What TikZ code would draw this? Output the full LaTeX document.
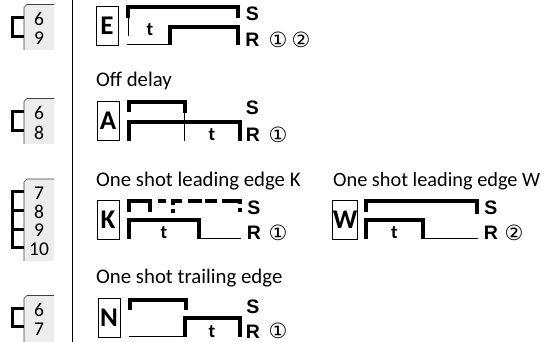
\documentclass[tikz,border=0pt]{standalone}
\usepackage{fontspec}
\setmainfont{Carlito}
\newfontfamily\symf{DejaVu Sans}
\newfontfamily\hel{Liberation Sans}
\tikzset{
 thick line/.style={line width=3.3pt,line join=miter},
 thin line/.style={line width=1pt},
 letterbox/.style={draw,line width=0.8pt,minimum width=22pt,minimum height=39pt,inner sep=0pt,font=\fontsize{27}{27}\selectfont\bfseries},
 sr/.style={inner sep=0pt,font=\fontsize{19.5}{19.5}\selectfont\hel\bfseries},
 tlab/.style={inner sep=0pt,font=\fontsize{19}{19}\selectfont\bfseries},
 title/.style={inner sep=0pt,anchor=base west,font=\fontsize{20.8}{20.8}\selectfont},
 titlew/.style={title,font=\fontsize{20.3}{20.3}\selectfont},
 num/.style={inner sep=0pt,font=\fontsize{19.5}{19.5}\selectfont},
 circ/.style={inner sep=0pt,font=\fontsize{21}{21}\selectfont\symf},
 tab/.style={fill=black!7,draw=none},
 tabedge/.style={line width=0.7pt,draw=black!75},
 bracket/.style={line width=3pt}
}
\newcommand{\tabbox}[2]{%
 \fill[tab] (24,#2) -- (24,#1+3) -- (27,#1) -- (54,#1) -- (54,#2) -- cycle;
 \draw[tabedge] (24,#2) -- (24,#1+3) -- (27,#1) -- (54,#1);}
\begin{document}
\begin{tikzpicture}[x=1pt,y=-1pt]
\useasboundingbox (0,0) rectangle (542,342);
\draw[line width=1pt] (72,0) -- (72,342);
% tabs
\tabbox{4.5}{50}
\tabbox{98.5}{144}
\tabbox{179}{261}
\tabbox{295.5}{342}
\draw[bracket] (24,18) -- (12,18) -- (12,37) -- (24,37);
\draw[bracket] (24,112) -- (12,112) -- (12,131) -- (24,131);
\draw[bracket] (24,192) -- (12,192) -- (12,248) -- (24,248);
\draw[bracket] (12,211) -- (24,211) (12,229.5) -- (24,229.5);
\draw[bracket] (24,309) -- (12,309) -- (12,327) -- (24,327);
\node[num] (n1) at (39,19) {6};
\node[num] (n2) at (39,38) {9};
\node[num] (n3) at (39,113) {6};
\node[num] (n4) at (39,133) {8};
\node[num] (n5) at (39,193) {7};
\node[num] (n6) at (39,211.5) {8};
\node[num] (n7) at (39,230) {9};
\node[num] (n8) at (39,249.5) {10};
\node[num] (n9) at (39,310) {6};
\node[num] (n10) at (39,329) {7};
% titles
\node[title] (t1) at (96,87) {Off delay};
\node[title] (t2) at (96,187) {One shot leading edge K};
\node[titlew] (t3) at (333,187) {One shot leading edge W};
\node[title] (t4) at (96,284) {One shot trailing edge};
% boxes
\node[letterbox] (E) at (107,26) {E};
\node[letterbox] (A) at (108,121) {A};
\node[letterbox] (K) at (108,220) {K};
\node[letterbox] (W) at (345,220) {W};
\node[letterbox] (N) at (109,318) {N};
% E
\draw[thick line] (128,18) -- (128,7) -- (238,7) -- (238,18);
\draw[thin line] (128.5,18) -- (128.5,36);
\draw[thin line] (127,45) -- (170,45);
\draw[thick line] (170,45.5) -- (170,27) -- (238,27) -- (238,45.5);
\node[tlab] (tE) at (150,30) {t};
\node[sr] (SE) at (252.5,14) {S};
\node[sr] (RE) at (252.5,40) {R};
\node[circ] (c1) at (278,40) {①};
\node[circ] (c2) at (301,40) {②};
% A
\draw[thick line] (129,112) -- (129,102) -- (185,102) -- (185,113);
\draw[thick line] (129,141) -- (129,122) -- (240,122) -- (240,141);
\draw[thin line] (184.5,113) -- (184.5,141);
\node[tlab] (tA) at (212,135) {t};
\node[sr] (SA) at (252.5,108) {S};
\node[sr] (RA) at (253,135) {R};
\node[circ] (c3) at (278,135) {①};
% K
\draw[thick line] (129,212) -- (129,201) -- (150,201) -- (150,212);
\draw[thick line] (158,201) -- (166,201);
\draw[thick line] (173,213) -- (173,209);
\draw[thick line] (173,205) -- (173,201) -- (182,201);
\draw[thick line] (188,201) -- (202,201);
\draw[thick line] (205,201) -- (217,201);
\draw[thick line] (222,201) -- (240,201) -- (240,204);
\draw[thick line] (240,208) -- (240,212);
\draw[thick line] (129,239) -- (129,220) -- (199,220) -- (199,239);
\draw[thin line] (199,239) -- (241,239);
\node[tlab] (tK) at (164,233) {t};
\node[sr] (SK) at (254,208) {S};
\node[sr] (RK) at (254,233) {R};
\node[circ] (c4) at (278,233) {①};
% W
\draw[thick line] (366,212) -- (366,201) -- (477,201) -- (477,214);
\draw[thick line] (366,239) -- (366,220) -- (423,220) -- (423,239);
\draw[thin line] (423,239) -- (478,239);
\node[tlab] (tW) at (394.5,233) {t};
\node[sr] (SW) at (491,208) {S};
\node[sr] (RW) at (491,233) {R};
\node[circ] (c5) at (514,233) {②};
% N
\draw[thick line] (130,310) -- (130,300) -- (186,300) -- (186,310);
\draw[thin line] (129,337) -- (185,337);
\draw[thick line] (185,337.5) -- (185,318) -- (240,318) -- (240,337.5);
\node[tlab] (tN) at (212,332) {t};
\node[sr] (SN) at (253,307) {S};
\node[sr] (RN) at (253,332) {R};
\node[circ] (c6) at (278,331) {①};
\end{tikzpicture}
\end{document}
